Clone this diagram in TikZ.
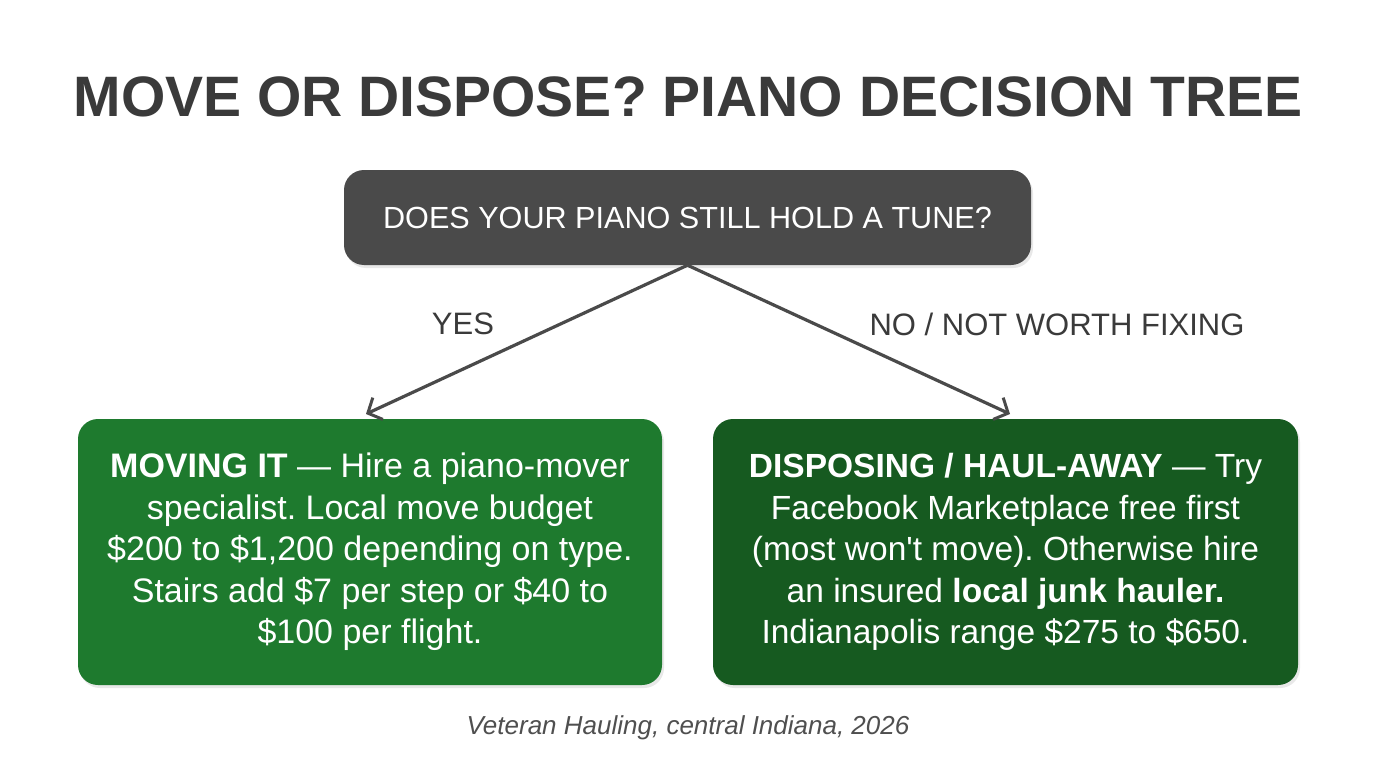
\documentclass[tikz,border=0pt]{standalone}
\usepackage{fontspec}
\setmainfont{Liberation Sans}
\usetikzlibrary{arrows.meta,shadows}
\frenchspacing
\definecolor{ink}{HTML}{3A3A3A}
\definecolor{qbox}{HTML}{4A4A4A}
\definecolor{gleft}{HTML}{1E7A2E}
\definecolor{gright}{HTML}{165A20}
\definecolor{foot}{HTML}{4F4F4F}
\tikzset{
  card/.style={rounded corners=20pt, text=white, align=center, inner sep=0pt,
    drop shadow={opacity=0.18, shadow xshift=2pt, shadow yshift=-3pt}},
  arr/.style={draw=qbox, line width=3.2pt, -{Straight Barb[length=11pt, width=24pt, line width=3pt]}},
  lbl/.style={text=ink, font=\fontsize{31}{35}\selectfont},
}
\begin{document}
\begin{tikzpicture}[x=1pt,y=-1pt]
\useasboundingbox[fill=white] (0,0) rectangle (1376,768);
\node[text=ink, font=\fontsize{57}{64}\selectfont\bfseries] (title) at (688,97) {MOVE OR DISPOSE? PIANO DECISION TREE};
\node[card, fill=qbox, minimum width=687pt, minimum height=95pt,
  font=\fontsize{30.6}{34}\selectfont] (q) at (687.5,217.5) {DOES YOUR PIANO STILL HOLD A TUNE?};
\node[card, fill=gleft, minimum width=584pt, minimum height=266pt,
  font=\fontsize{34}{41.6}\selectfont] (l) at (370,552)
  {\textbf{MOVING IT} — Hire a piano-mover\\specialist. Local move budget\\\$200 to \$1,200 depending on type.\\Stairs add \$7 per step or \$40 to\\\$100 per flight.};
\node[card, fill=gright, minimum width=585pt, minimum height=266pt,
  font=\fontsize{33.5}{41.6}\selectfont] (r) at (1005.5,552)
  {\textbf{DISPOSING / HAUL-AWAY} — Try\\Facebook Marketplace free first\\(most won\textquotesingle t move). Otherwise hire\\an insured \textbf{local junk hauler.}\\Indianapolis range \$275 to \$650.};
\coordinate (lt) at (366,414);
\coordinate (rt) at (1010,414);
\draw[arr] (q.south) -- (lt);
\draw[arr] (q.south) -- (rt);
\node[lbl] (yes) at (463,324) {YES};
\node[lbl] (no) at (1057,324) {NO / NOT WORTH FIXING};
\node[text=foot, font=\fontsize{26}{30}\selectfont\itshape] (f) at (688,728) {Veteran Hauling, central Indiana, 2026};
\end{tikzpicture}
\end{document}
